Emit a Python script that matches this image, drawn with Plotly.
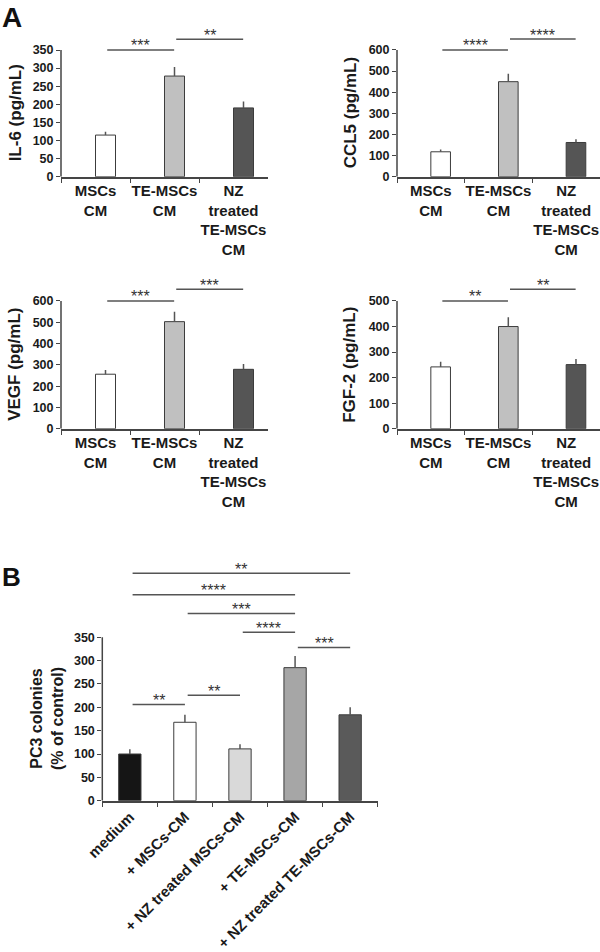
import plotly.graph_objects as go

W, H = 600, 952
FONT = "Liberation Sans, Arial, sans-serif"

# ---------------- data ----------------
a_categories = ["MSCs<br>CM", "TE-MSCs<br>CM", "NZ<br>treated<br>TE-MSCs<br>CM"]
a_colors = ["#ffffff", "#c0c0c0", "#555555"]

il6_values = [115, 278, 190]
il6_errors = [9, 25, 18]
il6_ticks = [0, 50, 100, 150, 200, 250, 300, 350]
il6_sig = [(0, 1, 350, "***"), (1, 2, 380, "**")]

ccl5_values = [118, 450, 162]
ccl5_errors = [11, 38, 15]
ccl5_ticks = [0, 100, 200, 300, 400, 500, 600]
ccl5_sig = [(0, 1, 600, "****"), (1, 2, 652, "****")]

vegf_values = [256, 503, 279]
vegf_errors = [20, 47, 25]
vegf_ticks = [0, 100, 200, 300, 400, 500, 600]
vegf_sig = [(0, 1, 600, "***"), (1, 2, 655, "***")]

fgf2_values = [242, 400, 251]
fgf2_errors = [20, 36, 22]
fgf2_ticks = [0, 100, 200, 300, 400, 500]
fgf2_sig = [(0, 1, 500, "**"), (1, 2, 546, "**")]

b_categories = ["medium", "+ MSCs-CM", "+ NZ treated MSCs-CM",
                "+ TE-MSCs-CM", "+ NZ treated TE-MSCs-CM"]
b_colors = ["#151515", "#ffffff", "#d9d9d9", "#a6a6a6", "#5a5a5a"]
b_values = [100, 168, 111, 285, 184]
b_errors = [10, 16, 10, 25, 16]
b_ticks = [0, 50, 100, 150, 200, 250, 300, 350]
b_sig = [(0, 4, 487, "**"), (0, 3, 441, "****"), (1, 3, 401, "***"),
         (2, 3, 361, "****"), (3, 4, 328, "***"), (0, 1, 206, "**"),
         (1, 2, 226, "**")]

# ---------------- layout geometry (pixels) ----------------
panels = [
    dict(ax="", cats=a_categories, colors=a_colors, vals=il6_values, errs=il6_errors,
         ticks=il6_ticks, sig=il6_sig, title="IL-6 (pg/mL)", tx=15, tfsz=17,
         xpx=(61, 268), zero=176.7, tickpx=50, rtop=400, barw=0.29, off=0,
         s0=0.17, s1=0.14, angle=0, tfs=15),
    dict(ax="2", cats=a_categories, colors=a_colors, vals=ccl5_values, errs=ccl5_errors,
         ticks=ccl5_ticks, sig=ccl5_sig, title="CCL5 (pg/mL)", tx=350, tfsz=17,
         xpx=(397, 600), zero=176.7, tickpx=50, rtop=690, barw=0.29, off=0,
         s0=0.17, s1=0.14, angle=0, tfs=15),
    dict(ax="3", cats=a_categories, colors=a_colors, vals=vegf_values, errs=vegf_errors,
         ticks=vegf_ticks, sig=vegf_sig, title="VEGF (pg/mL)", tx=15, tfsz=17,
         xpx=(61, 268), zero=428.7, tickpx=301, rtop=690, barw=0.29, off=0,
         s0=0.17, s1=0.14, angle=0, tfs=15),
    dict(ax="4", cats=a_categories, colors=a_colors, vals=fgf2_values, errs=fgf2_errors,
         ticks=fgf2_ticks, sig=fgf2_sig, title="FGF-2 (pg/mL)", tx=350, tfsz=17,
         xpx=(397, 600), zero=428.7, tickpx=301, rtop=575, barw=0.29, off=0,
         s0=0.17, s1=0.14, angle=0, tfs=15),
    dict(ax="5", cats=b_categories, colors=b_colors, vals=b_values, errs=b_errors,
         ticks=b_ticks, sig=b_sig, title="PC3 colonies<br>(% of control)", tx=47, tfsz=16,
         xpx=(102.3, 377.7), zero=800.7, tickpx=637.3, rtop=510, barw=0.405, off=None,
         s0=0.05, s1=0.0, angle=-45, tfs=15),
]

AXC = "#454545"
fig = go.Figure()
shapes, annotations = [], []
layout = dict(width=W, height=H, margin=dict(l=0, r=0, t=0, b=0, autoexpand=False),
              paper_bgcolor="white", plot_bgcolor="white", showlegend=False,
              font=dict(family=FONT, color="#1a1a1a"))

for p in panels:
    ax = p["ax"]
    xa, ya = "x" + ax, "y" + ax
    ppu = (p["zero"] - p["tickpx"]) / p["ticks"][-1]
    top_px = p["zero"] - p["rtop"] * ppu
    bar = dict(x=p["cats"], y=p["vals"], width=p["barw"],
               marker=dict(color=p["colors"], line=dict(color="#3c3c3c", width=1)),
               error_y=dict(type="data", array=p["errs"], arrayminus=[0] * len(p["errs"]),
                            symmetric=False, color="#555555", thickness=1.5, width=0),
               xaxis=xa, yaxis=ya, hoverinfo="skip")
    if p["off"] is not None:
        bar["offset"] = p["off"]
    fig.add_trace(go.Bar(**bar))

    layout["xaxis" + ax] = dict(
        domain=[p["xpx"][0] / W, p["xpx"][1] / W], anchor=ya, automargin=False,
        type="category", categoryorder="array", categoryarray=p["cats"],
        range=[-0.5, len(p["cats"]) - 0.5], tickson="boundaries",
        ticks="outside", ticklen=5, tickwidth=1.2, tickcolor=AXC,
        showline=True, linecolor=AXC, linewidth=1.5, showgrid=False, zeroline=False,
        tickangle=p["angle"], tickfont=dict(size=p["tfs"], weight="bold", color="#1a1a1a"),
        fixedrange=True)
    layout["yaxis" + ax] = dict(
        domain=[1 - p["zero"] / H, 1 - top_px / H], anchor=xa, automargin=False,
        range=[0, p["rtop"]], tickmode="array", tickvals=p["ticks"],
        ticks="outside", ticklen=4, tickwidth=1.2, tickcolor=AXC,
        showline=False, showgrid=False, zeroline=False,
        tickfont=dict(size=12.5, weight="bold", color="#1a1a1a"),
        fixedrange=True)
    # y-axis title, centred on the 0..top-tick span
    annotations.append(dict(x=p["tx"] / W, xref="paper", y=p["ticks"][-1] / 2, yref=ya,
                            text="<b>" + p["title"] + "</b>", textangle=-90,
                            showarrow=False, xanchor="center", yanchor="middle",
                            font=dict(size=p["tfsz"], color="#1a1a1a")))
    # y axis line from 0 to top tick
    shapes.append(dict(type="line", xref=xa + " domain", yref=ya, x0=0, x1=0,
                       y0=0, y1=p["ticks"][-1], line=dict(color=AXC, width=1.5)))
    for (i, j, lev, lab) in p["sig"]:
        x0, x1 = i + p["s0"], j + p["s1"]
        shapes.append(dict(type="line", xref=xa, yref=ya, x0=x0, x1=x1, y0=lev, y1=lev,
                           line=dict(color="#555555", width=1.5)))
        annotations.append(dict(x=(x0 + x1) / 2, y=lev, xref=xa, yref=ya, text=lab,
                                showarrow=False, yanchor="middle", yshift=4,
                                font=dict(size=16, color="#333333")))

annotations.append(dict(x=0.0, y=1.0, xref="paper", yref="paper", text="<b>A</b>",
                        showarrow=False, xanchor="left", yanchor="top",
                        font=dict(size=28, color="#111111")))
annotations.append(dict(x=0.0, y=1 - 577 / H, xref="paper", yref="paper", text="<b>B</b>",
                        showarrow=False, xanchor="left", yanchor="middle",
                        font=dict(size=26, color="#111111")))

layout["shapes"] = shapes
layout["annotations"] = annotations
fig.update_layout(**layout)
fig.write_html("out.html", config={"displayModeBar": False},
               post_script="document.body.style.margin='0';document.body.style.overflow='hidden';")
